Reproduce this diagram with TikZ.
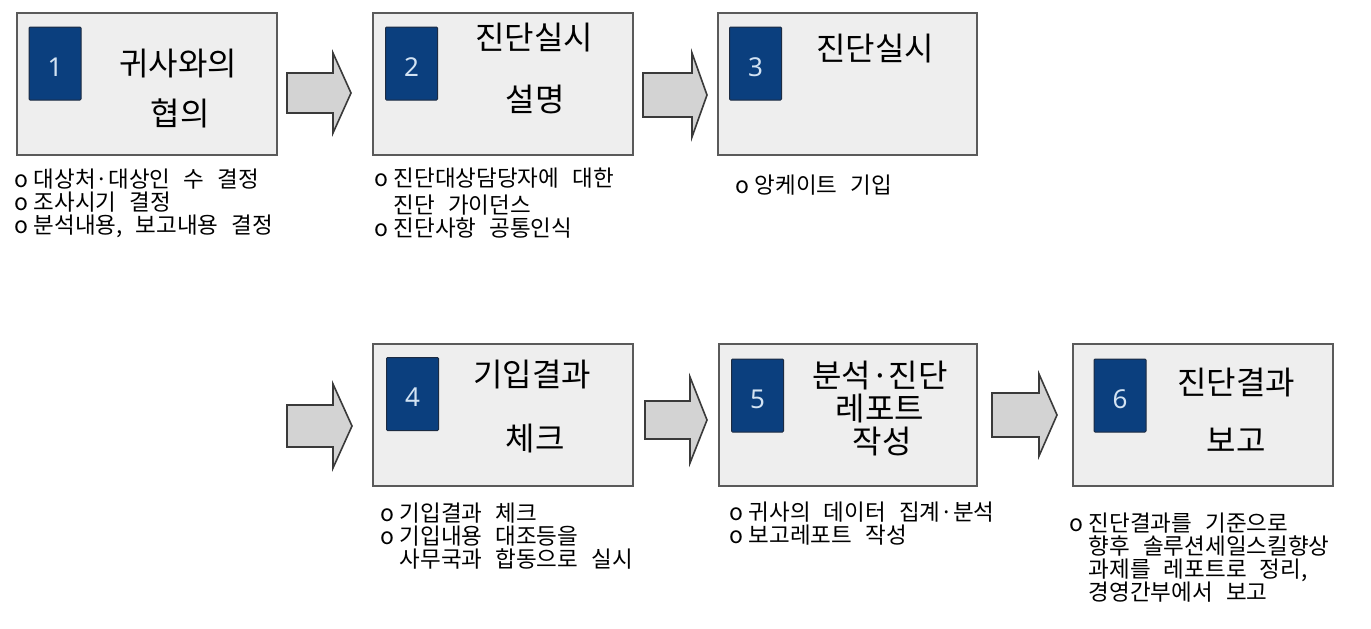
\documentclass[tikz,border=0pt]{standalone}
\usepackage{fontspec}
\setmainfont[WordSpace={2.6,0,0}]{Noto Sans CJK KR}
\newfontfamily\numfont{Noto Sans}
\definecolor{boxfill}{HTML}{EEEEEE}
\definecolor{boxline}{HTML}{5A5A5A}
\definecolor{badgeblue}{HTML}{0B3F7E}
\definecolor{badgeline}{HTML}{1C2B42}
\definecolor{numcol}{HTML}{D3E3F3}
\definecolor{arrowfill}{HTML}{D3D3D3}
\definecolor{arrowline}{HTML}{3A3A3A}
\newcommand{\blockarrow}[6]{%
  \draw[blockarr] (#1,{#4-#5}) -- (#2,{#4-#5}) -- (#2,{#4-#6}) -- (#3,#4)
    -- (#2,{#4+#6}) -- (#2,{#4+#5}) -- (#1,{#4+#5}) -- cycle;}
\begin{document}
\begin{tikzpicture}[x=1pt,y=-1pt,
  stage/.style={draw=boxline, line width=1.8pt, fill=boxfill, minimum width=260pt, minimum height=142pt, inner sep=0pt},
  badge/.style={draw=badgeline, line width=1pt, fill=badgeblue, minimum width=52pt, minimum height=73pt, inner sep=0pt, rounded corners=1pt, text=numcol, font=\numfont\fontsize{26}{26}\selectfont, text height=25pt, text depth=0pt},
  title/.style={inner sep=0pt, font=\fontsize{32}{34}\selectfont, text height=0.8em, text depth=0.07em},
  bul/.style={inner sep=0pt, anchor=west, font=\fontsize{22.5}{24}\selectfont, text height=0.8em, text depth=0.07em},
  blockarr/.style={draw=arrowline, line width=1.6pt, fill=arrowfill, line join=miter}
]
\useasboundingbox (0,0) rectangle (1371,629);
\fill[white] (0,0) rectangle (1371,629);
\newcommand{\bl}[1]{\makebox[19.5pt][l]{\fontsize{23}{23}\selectfont o}#1}
\newcommand{\cl}[1]{\hspace*{19.5pt}#1}

% stages
\node[stage] (s1) at (147,84) {};
\node[stage] (s2) at (503,84) {};
\node[stage, minimum width=259pt] (s3) at (847.5,84) {};
\node[stage] (s4) at (503,415) {};
\node[stage, minimum width=258pt] (s5) at (848,415) {};
\node[stage] (s6) at (1203,415) {};

% badges
\node[badge] (n1) at (55,63.5) {1};
\node[badge] (n2) at (411.5,63.5) {2};
\node[badge] (n3) at (755.5,63.5) {3};
\node[badge] (n4) at (412.5,394) {4};
\node[badge] (n5) at (757.5,395.5) {5};
\node[badge] (n6) at (1120,395.5) {6};

% titles
\node[title] (t1a) at (178,72) {귀사와의};
\node[title] (t1b) at (180,122) {협의};
\node[title] (t2a) at (534,46) {진단실시};
\node[title] (t2b) at (535,108) {설명};
\node[title] (t3a) at (875,57) {진단실시};
\node[title] (t4a) at (532,383) {기입결과};
\node[title] (t4b) at (535,447) {체크};
\node[title] (t5a) at (880,384) {분석·진단};
\node[title] (t5b) at (880,417) {레포트};
\node[title] (t5c) at (882,450) {작성};
\node[title] (t6a) at (1236,391) {진단결과};
\node[title] (t6b) at (1236,449) {보고};

% arrows
\blockarrow{287}{333}{351}{93}{20}{40}
\blockarrow{643}{692}{707}{95}{22}{42}
\blockarrow{287}{333}{352}{426}{21}{42}
\blockarrow{645}{690}{707}{420}{19}{43}
\blockarrow{992}{1039}{1057}{415}{22}{41}

% bullet lists
\node[bul] (l1a) at (14,184) {\bl{대상처·대상인 수 결정}};
\node[bul] (l1b) at (14,207) {\bl{조사시기 결정}};
\node[bul] (l1c) at (14,230) {\bl{분석내용, 보고내용 결정}};

\node[bul] (l2a) at (374,183) {\bl{진단대상담당자에 대한}};
\node[bul] (l2b) at (374,210) {\cl{진단 가이던스}};
\node[bul] (l2c) at (374,233) {\bl{진단사항 공통인식}};

\node[bul] (l3a) at (735,190) {\bl{앙케이트 기입}};

\node[bul] (l4a) at (380,518) {\bl{기입결과 체크}};
\node[bul] (l4b) at (380,541) {\bl{기입내용 대조등을}};
\node[bul] (l4c) at (380,564) {\cl{사무국과 합동으로 실시}};

\node[bul] (l5a) at (729,517) {\bl{귀사의 데이터 집계·분석}};
\node[bul] (l5b) at (729,540) {\bl{보고레포트 작성}};

\node[bul] (l6a) at (1069,528) {\bl{진단결과를 기준으로}};
\node[bul] (l6b) at (1069,551) {\cl{향후 솔루션세일스킬향상}};
\node[bul] (l6c) at (1069,574) {\cl{과제를 레포트로 정리,}};
\node[bul] (l6d) at (1069,597) {\cl{경영간부에서 보고}};
\end{tikzpicture}
\end{document}
